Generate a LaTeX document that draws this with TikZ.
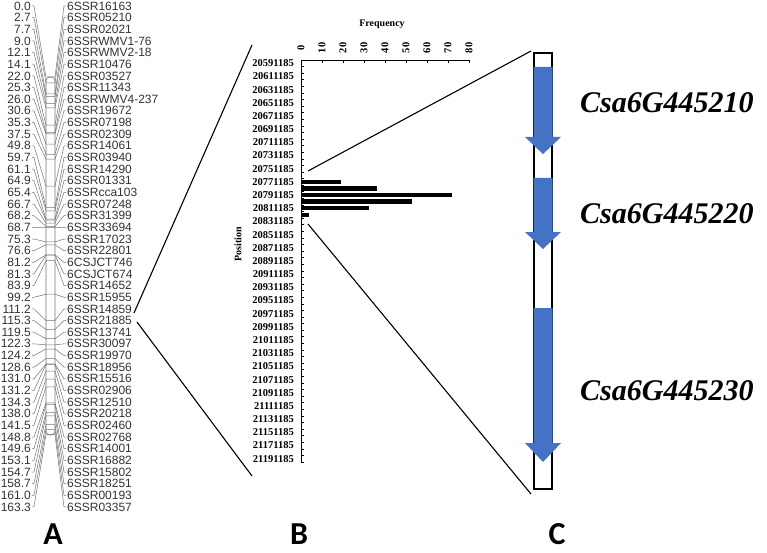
\documentclass[tikz,border=0pt]{standalone}
\usepackage{fontspec}
\setmainfont{Liberation Serif}
\newfontfamily\arialfont{Liberation Sans}
\newfontfamily\calfont{Carlito}
\usepackage{xcolor}
\usepackage{tikz}
\usetikzlibrary{positioning}
\definecolor{geneblue}{HTML}{4472C4}

\begin{document}
\begin{tikzpicture}[
       x=1pt, y=-1pt,
       cmlabel/.style={
           anchor=east,
           inner sep=1pt,
           text=black!80,
           font=\arialfont\fontsize{12}{12}\selectfont
       },
       marker/.style={
           anchor=west,
           inner sep=1pt,
           text=black!80,
           font=\arialfont\fontsize{12}{12}\selectfont
       },
       chrom/.style={draw=black!55, line width=0.6pt, rounded corners=4pt},
       link/.style={draw=black!55, line width=0.5pt},
       axis/.style={draw=black, line width=0.8pt},
       poslabel/.style={anchor=east, inner sep=1pt, font=\bfseries\fontsize{10.5}{10.5}\selectfont},
       freqlabel/.style={rotate=90, inner sep=0pt, font=\bfseries\fontsize{10.5}{10.5}\selectfont},
       title/.style={inner sep=0pt, font=\bfseries\fontsize{10}{10}\selectfont},
       zoomline/.style={draw=black, line width=1.1pt},
       genebox/.style={draw=black, line width=1.2pt, fill=white},
       gene/.style={fill=geneblue},
       genename/.style={anchor=west, inner sep=0pt, font=\bfseries\itshape\fontsize{30}{30}\selectfont},
       panel/.style={inner sep=0pt, font=\calfont\bfseries\fontsize{32}{32}\selectfont}
   ]
   \useasboundingbox (0,0) rectangle (767,553);

   % A: linkage map
   \draw[chrom] (46,77) rectangle (55,435);
   \foreach \cm/\name [count=\i from 0] in {
       0.0/6SSR16163, 2.7/6SSR05210, 7.7/6SSR02021, 9.0/6SSRWMV1-76,
       12.1/6SSRWMV2-18, 14.1/6SSR10476, 22.0/6SSR03527, 25.3/6SSR11343,
       26.0/6SSRWMV4-237, 30.6/6SSR19672, 35.3/6SSR07198, 37.5/6SSR02309,
       49.8/6SSR14061, 59.7/6SSR03940, 61.1/6SSR14290, 64.9/6SSR01331,
       65.4/6SSRcca103, 66.7/6SSR07248, 68.2/6SSR31399, 68.7/6SSR33694,
       75.3/6SSR17023, 76.6/6SSR22801, 81.2/6CSJCT746, 81.3/6CSJCT674,
       83.9/6SSR14652, 99.2/6SSR15955, 111.2/6SSR14859, 115.3/6SSR21885,
       119.5/6SSR13741, 122.3/6SSR30097, 124.2/6SSR19970, 128.6/6SSR18956,
       131.0/6SSR15516, 131.2/6SSR02906, 134.3/6SSR12510, 138.0/6SSR20218,
       141.5/6SSR02460, 148.8/6SSR02768, 149.6/6SSR14001, 153.1/6SSR16882,
       154.7/6SSR15802, 158.7/6SSR18251, 161.0/6SSR00193, 163.3/6SSR03357} {
       \pgfmathsetmacro\yl{6+11.65*\i}
       \pgfmathsetmacro\yb{77+2.19*\cm}
       \node[cmlabel] (n\i) at (32,\yl) {\cm};
       \node[marker] (m\i) at (66,\yl) {\name};
       \coordinate (bl\i) at (46,\yb);
       \coordinate (br\i) at (55,\yb);
       \draw[link] (n\i.east) -- ++(2,0) -- (bl\i) -- (br\i) -- (64,\yl) -- (m\i.west);
   }

   % B: frequency chart
   \coordinate (ax0) at (301,60);
   \coordinate (axB) at (301,462.6);
   \coordinate (axR) at (469,60);
   \foreach \k/\v in {18/19, 19/36, 20/72, 21/52.7, 22/32.5, 23/4}
       \fill ({301},{61.1+6.59*\k}) rectangle ++({2.1*\v},4.4);
   \draw[axis] (axB) -- (ax0) -- (axR);
   \foreach \k in {0,...,61}
       \draw[axis, line width=0.6pt] (301,{60+6.59*\k}) -- ++(3,0);
   \foreach \v in {0,10,...,80} {
       \draw[axis, line width=0.6pt] ({301+2.1*\v},60) -- ++(0,3);
       \node[freqlabel] (f\v) at ({301+2.1*\v},48) {\v};
   }
   \foreach \j in {0,...,30} {
       \pgfmathtruncatemacro\p{2059+2*\j}
       \node[poslabel] (p\j) at (295,{63.3+13.18*\j}) {\p1185};
   }
   \node[title] (freq) at (382,24) {Frequency};
   \node[title, rotate=90] (pos) at (238,244) {Position};

   % Zoom lines
   \coordinate (a1) at (134,313);
   \coordinate (a2) at (137,322);
   \coordinate (b1) at (252,45);
   \coordinate (b2) at (252,476);
   \coordinate (b3) at (308,171);
   \coordinate (b4) at (308,224);
   \coordinate (c1) at (531,51);
   \coordinate (c2) at (531,494);
   \draw[zoomline] (a1) -- (b1);
   \draw[zoomline] (a2) -- (b2);
   \draw[zoomline] (b3) -- (c1);
   \draw[zoomline] (b4) -- (c2);

   % C: genes
   \draw[genebox] (534,53) rectangle (552,489);
   \fill[gene] (533.5,67) -- (552.5,67) -- (552.5,137) -- (561,137) -- (543,154)
       -- (525,137) -- (533.5,137) -- cycle;
   \fill[gene] (533.5,178) -- (552.5,178) -- (552.5,232) -- (561,232) -- (543,249)
       -- (525,232) -- (533.5,232) -- cycle;
   \fill[gene] (533.5,308) -- (552.5,308) -- (552.5,443) -- (561,443) -- (543,462)
       -- (525,443) -- (533.5,443) -- cycle;
   \node[genename] (g1) at (580,103) {Csa6G445210};
   \node[genename] (g2) at (580,214) {Csa6G445220};
   \node[genename] (g3) at (580,391) {Csa6G445230};

   % Panel labels
   \node[panel] (pa) at (53,534) {A};
   \node[panel] (pb) at (299,534) {B};
   \node[panel] (pc) at (557,534) {C};

\end{tikzpicture}
\end{document}
